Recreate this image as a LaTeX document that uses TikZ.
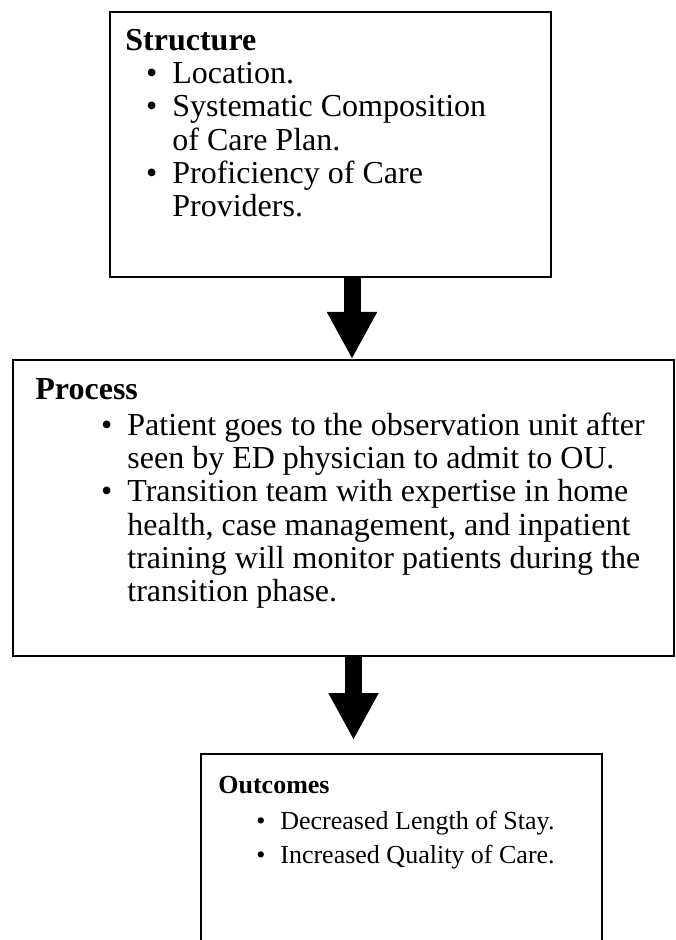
\documentclass[tikz,border=0pt]{standalone}
\usepackage{fontspec}
\setmainfont{Liberation Serif}
\usetikzlibrary{arrows.meta,positioning}

\newcommand{\bul}[1]{\hspace*{#1}\llap{\textbullet\hspace{7.5pt}}}
\newcommand{\cont}[1]{\hspace*{#1}}

\begin{document}
\begin{tikzpicture}[x=0.5pt,y=-0.5pt,
    box/.style={draw=black,line width=1pt,anchor=north west,inner sep=0pt},
    txt/.style={anchor=north west,align=left,inner sep=0pt,font=\fontsize{#1}{16.6pt}\selectfont},
    txt/.default=16pt,
    bigarrow/.style={line width=8.5pt,-{Triangle[width=23.5pt,length=23.5pt]}}]
    \useasboundingbox (0,0) rectangle (675,940);

    \node[box,minimum width=220.5pt,minimum height=132.5pt] (S) at (109,11) {};
    \node[box,minimum width=330.5pt,minimum height=148pt] (P) at (12,359) {};
    \node[box,minimum width=200.5pt,minimum height=94.5pt] (O) at (200,753) {};

    \node[txt] (St) at (125,29) {\textbf{Structure}\\
        \bul{23.5pt}Location.\\
        \bul{23.5pt}Systematic Composition\\
        \cont{23.5pt}of Care Plan.\\
        \bul{23.5pt}Proficiency of Care\\
        \cont{23.5pt}Providers.};

    \node[txt] (Pt) at (35,378) {\textbf{Process}\\[1.5pt]
        \bul{46pt}Patient goes to the observation unit after\\
        \cont{46pt}seen by ED physician to admit to OU.\\
        \bul{46pt}Transition team with expertise in home\\
        \cont{46pt}health, case management, and inpatient\\
        \cont{46pt}training will monitor patients during the\\
        \cont{46pt}transition phase.};

    \node[txt=13pt] (Ot) at (218,776) {\textbf{Outcomes}\\[1.5pt]
        \bul{31pt}Decreased Length of Stay.\\
        \bul{31pt}Increased Quality of Care.};

    \coordinate (a1) at (352,0);
    \coordinate (a2) at (353.5,0);
    \coordinate (t2) at (353.5,740);

    \draw[bigarrow] (S.south -| a1) -- (P.north -| a1);
    \draw[bigarrow] (P.south -| a2) -- (t2);
\end{tikzpicture}
\end{document}
